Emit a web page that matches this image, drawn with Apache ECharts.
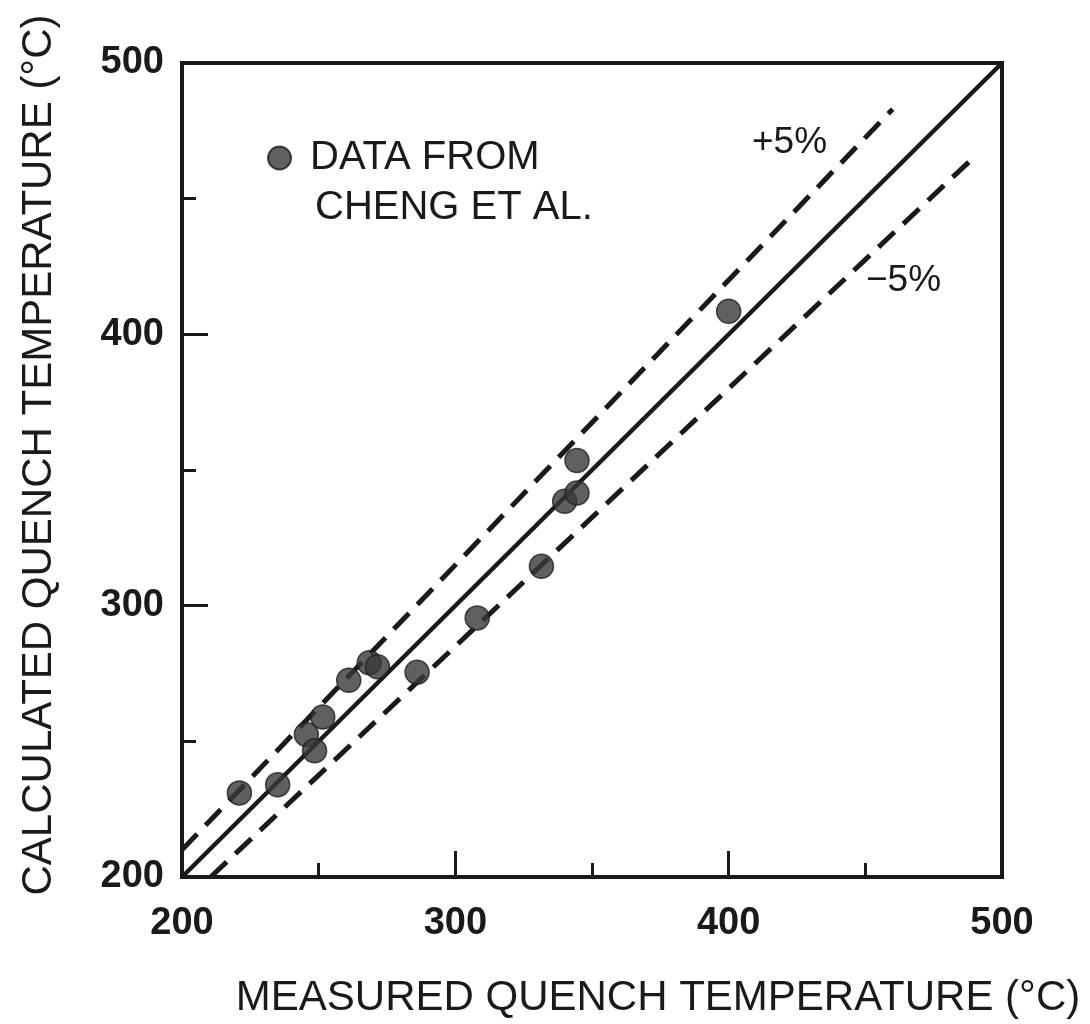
<!DOCTYPE html>
<html>
<head>
<meta charset="utf-8">
<script src="https://cdn.jsdelivr.net/npm/echarts@6/dist/echarts.min.js"></script>
<style>
  html, body { margin: 0; padding: 0; background: #fff; }
  #chart { width: 1090px; height: 1024px; }
</style>
</head>
<body>
<div id="chart"></div>
<script>
// Measured vs calculated quench temperature (°C).
const measured   = [221, 235, 245.5, 248.5, 251.5, 261, 268.5, 271.5, 286, 308, 331.5, 340, 344.5, 344.5, 400];
const calculated = [231, 234, 252.5, 246.5, 259, 272.5, 279, 277.5, 275.5, 295.5, 314.5, 338.5, 341.5, 353.5, 408.5];

// Reference lines: perfect agreement and the ±5 % band.
const perfectLine = [[200, 200], [500, 500]];
const plusLine    = [[200, 210], [460, 483]];
const minusLine   = [[210.5, 200], [491, 466.5]];

// Axis range.
const axisMin = 200;
const axisMax = 500;
const axisStep = 100;

const ink = '#1a1a1a';
const font = '"Liberation Sans", Arial, sans-serif';

function drawChart() {
    let chart = echarts.init(document.getElementById('chart'));

    let points = measured.map((m, i) => [m, calculated[i]]);

    let axisCommon = {
        type: 'value',
        min: axisMin,
        max: axisMax,
        interval: axisStep,
        axisLine: { show: true, lineStyle: { color: ink, width: 4 } },
        axisTick: { show: true, inside: true, length: 26, lineStyle: { color: ink, width: 3 } },
        minorTick: { show: true, splitNumber: 2, length: 14, lineStyle: { color: ink, width: 3 } },
        splitLine: { show: false },
        minorSplitLine: { show: false },
        nameTextStyle: { color: ink, fontFamily: font, fontSize: 42 }
    };

    let option = {
        backgroundColor: '#fff',
        animation: false,
        grid: {
            left: 182, right: 88, top: 63, bottom: 146,
            show: true, borderColor: ink, borderWidth: 4
        },
        legend: {
            data: [{ name: 'DATA FROM', icon: 'circle' }],
            left: 262, top: 133,
            itemWidth: 23, itemHeight: 23,
            textStyle: { color: ink, fontFamily: font, fontSize: 40, padding: [0, 0, 0, 14] }
        },
        xAxis: Object.assign({}, axisCommon, {
            name: 'MEASURED QUENCH TEMPERATURE (°C)',
            nameLocation: 'middle',
            nameGap: 100,
            nameTextStyle: Object.assign({}, axisCommon.nameTextStyle, { padding: [0, 0, 0, 132] }),
            axisLabel: { margin: 28, color: ink, fontFamily: font, fontWeight: 'bold', fontSize: 38 }
        }),
        yAxis: Object.assign({}, axisCommon, {
            name: 'CALCULATED QUENCH TEMPERATURE (°C)',
            nameLocation: 'middle',
            nameGap: 122,
            nameTextStyle: Object.assign({}, axisCommon.nameTextStyle, { padding: [0, 0, 0, 30] }),
            axisLabel: { margin: 18, color: ink, fontFamily: font, fontWeight: 'bold', fontSize: 38 }
        }),
        series: [
            {
                name: 'perfect',
                type: 'line',
                data: perfectLine,
                symbol: 'none',
                lineStyle: { color: ink, width: 4.5 },
                silent: true
            },
            {
                name: '+5%',
                type: 'line',
                data: plusLine,
                symbol: 'none',
                lineStyle: { color: ink, width: 5, type: [22, 12] },
                silent: true
            },
            {
                name: '-5%',
                type: 'line',
                data: minusLine,
                symbol: 'none',
                lineStyle: { color: ink, width: 5, type: [22, 12] },
                silent: true
            },
            {
                name: 'DATA FROM',
                type: 'scatter',
                data: points,
                symbol: 'circle',
                symbolSize: 24,
                itemStyle: { color: '#383838', borderColor: '#1e1e1e', borderWidth: 1.5 },
                z: 5
            }
        ],
        graphic: [
            {
                type: 'text', left: 315, top: 188,
                style: { text: 'CHENG ET AL.', fill: ink, font: '40px ' + font }
            },
            {
                type: 'text', left: 752, top: 124,
                style: { text: '+5%', fill: ink, font: '37px ' + font }
            },
            {
                type: 'text', left: 866, top: 262,
                style: { text: '−5%', fill: ink, font: '37px ' + font }
            }
        ]
    };

    chart.setOption(option);
}

window.addEventListener('load', drawChart);
</script>
</body>
</html>
